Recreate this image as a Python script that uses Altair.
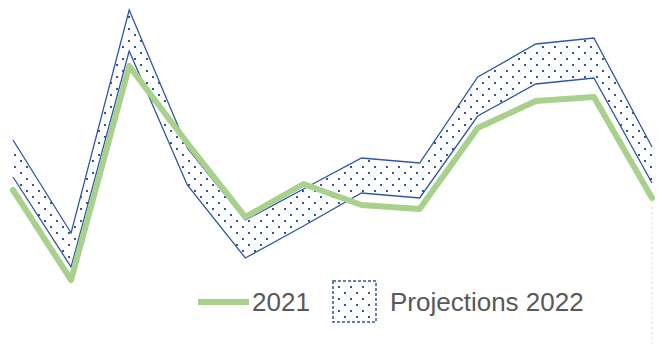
import altair as alt
import pandas as pd

# ---- data ----
months = ["Jan", "Feb", "Mar", "Apr", "May", "Jun", "Jul", "Aug", "Sep", "Oct", "Nov", "Dec"]
actual_2021 = [98, 8, 222, 145, 71, 104, 83, 79, 160, 187, 191, 90]
proj_2022_high = [148, 55, 278, 140, 68, 99, 130, 125, 211, 244, 250, 141]
proj_2022_low = [111, 21, 237, 103, 30, 62, 95, 90, 172, 204, 210, 105]
legend_labels = ["2021", "Projections 2022"]

GREEN = "#a9d18e"
BLUE = "#2f55a3"
GRAY_TEXT = "#595959"
FONT = "Liberation Sans"

W, H = 639, 280
N = len(months)
df = pd.DataFrame({
    "i": list(range(N)),
    "month": months,
    "actual": actual_2021,
    "high": proj_2022_high,
    "low": proj_2022_low,
})

xs = alt.Scale(domain=[0, N - 1], nice=False, zero=False)
ys = alt.Scale(domain=[0, 280], nice=False, zero=False)

base = alt.Chart(df)

hi_arr = "[" + ",".join(str(v) for v in proj_2022_high) + "]"
lo_arr = "[" + ",".join(str(v) for v in proj_2022_low) + "]"

# dotted fill pattern of the projection band (staggered dot grid clipped to the band)
NC, NR = 56, 54
dots = (
    alt.Chart(alt.sequence(0, NC * NR, as_="n"))
    .transform_calculate(row=f"floor(datum.n / {NC})", col=f"datum.n % {NC}")
    .transform_calculate(px="datum.col * 12 + (datum.row % 2) * 6 + 2", py="datum.row * 6 + 3")
    .transform_calculate(xv=f"datum.px * {N - 1} / {W}", yv=f"{H} - datum.py")
    .transform_calculate(i0=f"clamp(floor(datum.xv), 0, {N - 2})")
    .transform_calculate(f="datum.xv - datum.i0")
    .transform_calculate(
        hi=f"{hi_arr}[datum.i0] + datum.f * ({hi_arr}[datum.i0 + 1] - {hi_arr}[datum.i0])",
        lo=f"{lo_arr}[datum.i0] + datum.f * ({lo_arr}[datum.i0 + 1] - {lo_arr}[datum.i0])",
    )
    .transform_filter(
        f"(datum.xv <= {N - 1} && datum.yv < datum.hi - 1.5 && datum.yv > datum.lo + 1.5)"
        " || (datum.px >= 322 && datum.px <= 361 && datum.py >= 276 && datum.py <= 312)"
    )
    .mark_square(size=4, color=BLUE, opacity=1)
    .encode(
        x=alt.X("xv:Q", scale=xs, axis=None),
        y=alt.Y("yv:Q", scale=ys, axis=None),
    )
)

high_line = base.mark_line(color=BLUE, strokeWidth=1.3).encode(
    x=alt.X("i:Q", scale=xs, axis=None), y=alt.Y("high:Q", scale=ys, axis=None)
)
low_line = base.mark_line(color=BLUE, strokeWidth=1.3).encode(
    x=alt.X("i:Q", scale=xs, axis=None), y=alt.Y("low:Q", scale=ys, axis=None)
)
green_line = base.mark_line(color=GREEN, strokeWidth=6, strokeCap="round", strokeJoin="round").encode(
    x=alt.X("i:Q", scale=xs, axis=None), y=alt.Y("actual:Q", scale=ys, axis=None)
)

drop = base.transform_filter(f"datum.i == {N - 1}").mark_rule(
    color="#d6d6d6", strokeDash=[2, 3], strokeWidth=1
).encode(x=alt.X("i:Q", scale=xs, axis=None), y=alt.value(199), y2=alt.value(346))

# ---- custom legend ----
leg = alt.Chart(pd.DataFrame({"label": legend_labels}))
leg_line = leg.transform_filter(alt.datum.label == legend_labels[0]).mark_rule(
    color=GREEN, strokeWidth=6
).encode(x=alt.value(185), x2=alt.value(236), y=alt.value(294))
leg_text1 = leg.transform_filter(alt.datum.label == legend_labels[0]).mark_text(
    font=FONT, fontSize=26, color=GRAY_TEXT, align="left", baseline="alphabetic"
).encode(text="label:N", x=alt.value(239), y=alt.value(303))
leg_box = leg.transform_filter(alt.datum.label == legend_labels[1]).mark_rect(
    fillOpacity=0, stroke=BLUE, strokeWidth=1.5, strokeDash=[3, 2]
).encode(x=alt.value(320), x2=alt.value(363), y=alt.value(273), y2=alt.value(314))
leg_text2 = leg.transform_filter(alt.datum.label == legend_labels[1]).mark_text(
    font=FONT, fontSize=26, color=GRAY_TEXT, align="left", baseline="alphabetic"
).encode(text="label:N", x=alt.value(377), y=alt.value(303))

chart = (
    alt.layer(dots, high_line, low_line, drop, green_line, leg_line, leg_text1, leg_box, leg_text2)
    .properties(
        width=W,
        height=H,
        autosize=alt.AutoSizeParams(type="none"),
        padding={"left": 5, "top": 0, "right": 12, "bottom": 58},
        background="white",
    )
    .configure_view(stroke=None)
)

chart.save("out.html", embed_options={"renderer": "svg", "actions": False})
